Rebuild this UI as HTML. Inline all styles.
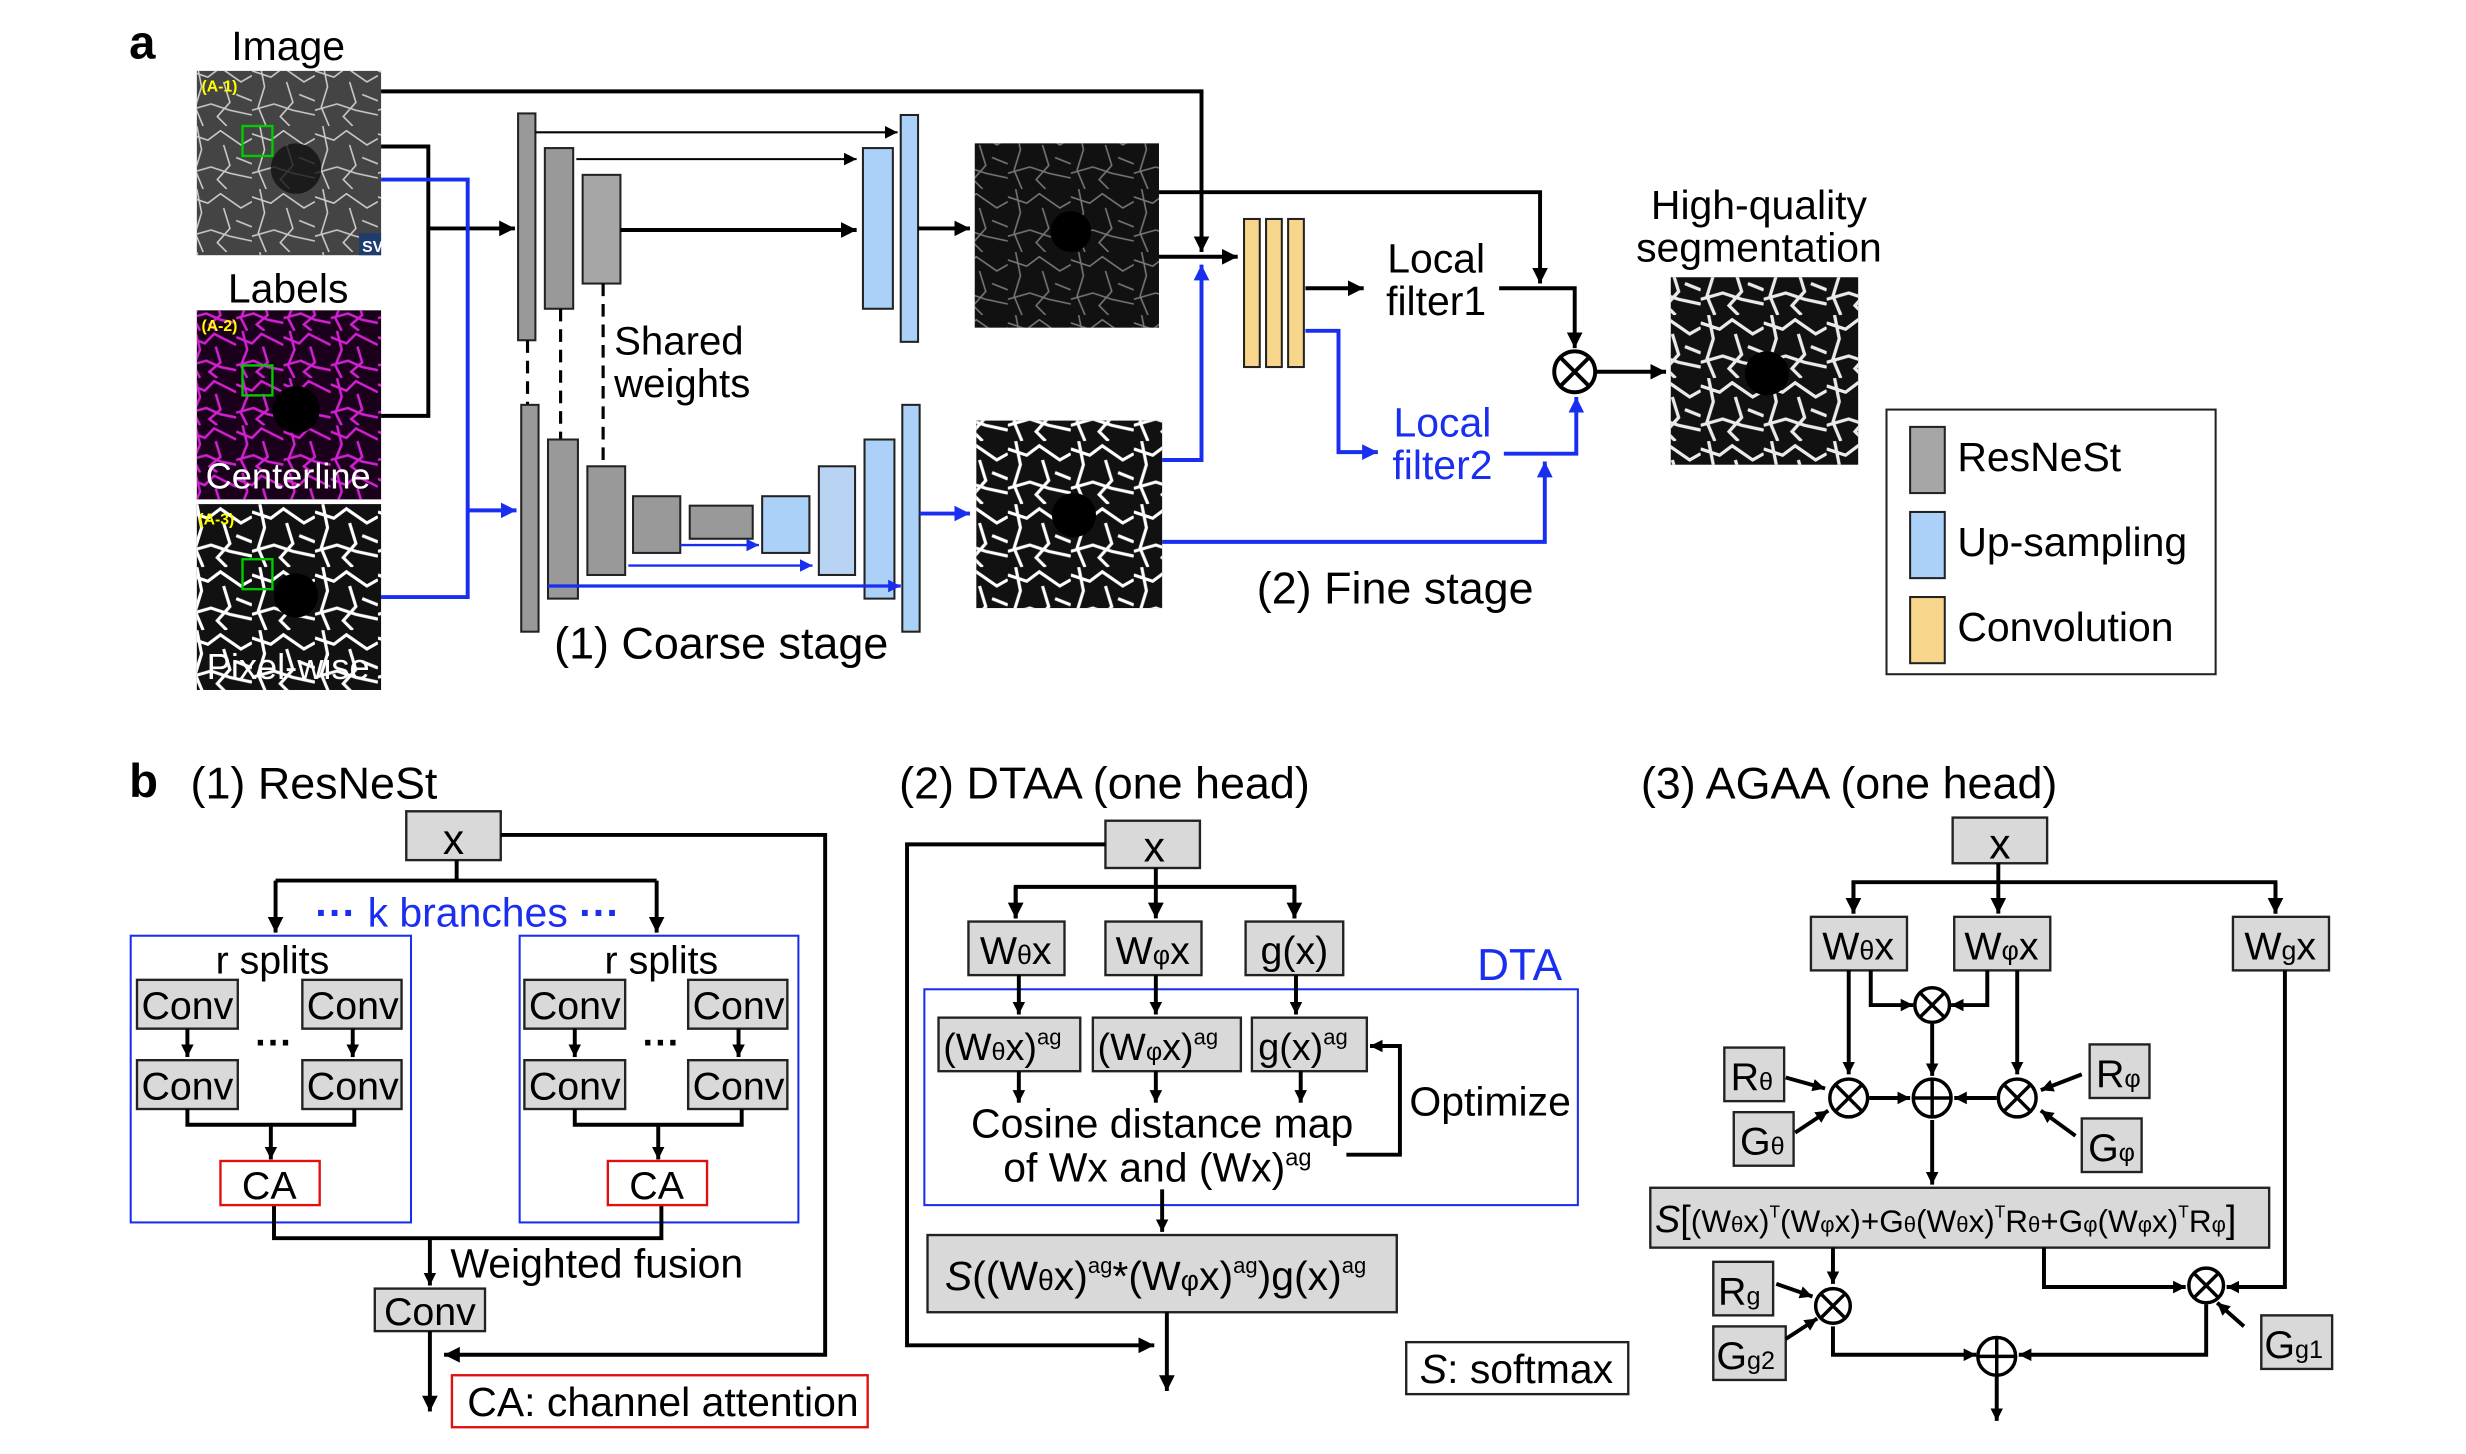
<!DOCTYPE html>
<html><head><meta charset="utf-8"><style>
html,body{margin:0;padding:0;background:#fff;}
svg{display:block;}
text{font-family:"Liberation Sans",Arial,sans-serif;}
</style></head><body>
<svg width="2466" height="1454" viewBox="0 0 1566 923" preserveAspectRatio="none" xmlns="http://www.w3.org/2000/svg">
<defs>
<marker id="a" viewBox="0 0 10 10" refX="10" refY="5" markerWidth="10" markerHeight="10" markerUnits="userSpaceOnUse" orient="auto"><path d="M0,0L10,5L0,10z" fill="#000"/></marker>
<marker id="as" viewBox="0 0 10 10" refX="10" refY="5" markerWidth="8" markerHeight="8" markerUnits="userSpaceOnUse" orient="auto"><path d="M0,0L10,5L0,10z" fill="#000"/></marker>
<marker id="b" viewBox="0 0 10 10" refX="10" refY="5" markerWidth="10" markerHeight="10" markerUnits="userSpaceOnUse" orient="auto"><path d="M0,0L10,5L0,10z" fill="#1a2ef0"/></marker>
<marker id="bs" viewBox="0 0 10 10" refX="10" refY="5" markerWidth="8" markerHeight="8" markerUnits="userSpaceOnUse" orient="auto"><path d="M0,0L10,5L0,10z" fill="#1a2ef0"/></marker>
<pattern id="v1" width="40" height="40" patternUnits="userSpaceOnUse">
<path d="M0,5 L12,9 L20,3 L33,12 L40,8 M5,0 L8,15 L4,28 L9,40 M22,12 L26,25 L18,34 L24,40 M30,20 L40,24 M0,30 L14,26 L26,30 L40,33" stroke="#ccc" stroke-width="1" fill="none"/></pattern>
<pattern id="v2" width="40" height="40" patternUnits="userSpaceOnUse">
<path d="M0,5 L12,9 L20,3 L33,12 L40,8 M5,0 L8,15 L4,28 L9,40 M22,12 L26,25 L18,34 L24,40 M30,20 L40,24 M0,30 L14,26 L26,30 L40,33" stroke="#fff" stroke-width="2" fill="none"/></pattern>
<pattern id="v3" width="30" height="30" patternUnits="userSpaceOnUse">
<path d="M0,4 L10,8 L16,2 L30,9 M4,0 L7,12 L3,22 L7,30 M17,10 L20,20 L13,26 L18,30 M0,22 L11,19 L20,23 L30,25" stroke="#d020d0" stroke-width="1.6" fill="none"/></pattern>
</defs>

<text x="82" y="37" font-size="30" font-weight="bold">a</text>
<text x="183" y="38" font-size="26" text-anchor="middle">Image</text>
<rect x="125" y="45" width="117" height="117" fill="#444"/>
<rect x="125" y="45" width="117" height="117" fill="url(#v1)"/>
<circle cx="188" cy="107" r="16" fill="#111" opacity="0.8"/>
<rect x="228" y="148" width="14" height="14" fill="#1f3c6e"/>
<text x="230" y="160" font-size="10" fill="#fff" font-weight="bold">SV</text>
<text x="128" y="58" font-size="10" fill="#ff0" font-weight="bold">(A-1)</text>
<rect x="154" y="80" width="19" height="19" fill="none" stroke="#0c0" stroke-width="1.5"/>

<text x="183" y="192" font-size="26" text-anchor="middle">Labels</text>
<rect x="125" y="197" width="117" height="120" fill="#1a001a"/>
<rect x="125" y="197" width="117" height="120" fill="url(#v3)"/>
<circle cx="188" cy="260" r="15" fill="#000"/>
<text x="128" y="210" font-size="10" fill="#ff0" font-weight="bold">(A-2)</text>
<rect x="154" y="232" width="19" height="19" fill="none" stroke="#0c0" stroke-width="1.5"/>
<text x="183" y="310" font-size="23" fill="#fff" text-anchor="middle">Centerline</text>

<rect x="125" y="320" width="117" height="118" fill="#111"/>
<rect x="125" y="320" width="117" height="118" fill="url(#v2)"/>
<circle cx="188" cy="378" r="14" fill="#000"/>
<text x="126" y="333" font-size="10" fill="#ff0" font-weight="bold">(A-3)</text>
<rect x="154" y="355" width="19" height="19" fill="none" stroke="#0c0" stroke-width="1.5"/>
<text x="183" y="431" font-size="23" fill="#fff" text-anchor="middle">Pixel-wise</text>

<polyline points="242,58 763,58 763,160" fill="none" stroke="#000" stroke-width="2.5" marker-end="url(#a)"/>
<polyline points="242,93 272,93 272,264 242,264" fill="none" stroke="#000" stroke-width="2.5"/>
<line x1="272" y1="145" x2="327" y2="145" stroke="#000" stroke-width="2.5" marker-end="url(#a)"/>
<polyline points="242,114 297,114 297,379 242,379" fill="none" stroke="#1a2ef0" stroke-width="2.5"/>
<line x1="297" y1="324" x2="328" y2="324" stroke="#1a2ef0" stroke-width="2.5" marker-end="url(#b)"/>

<g stroke="#222" stroke-width="1.3">
<rect x="329" y="72" width="11" height="144" fill="#999"/>
<rect x="346" y="94" width="18" height="102" fill="#999"/>
<rect x="370" y="111" width="24" height="69" fill="#a6a6a6"/>
<rect x="548" y="94" width="19" height="102" fill="#acd1f8"/>
<rect x="572" y="73" width="11" height="144" fill="#acd1f8"/>
</g>
<line x1="340" y1="84" x2="570" y2="84" stroke="#000" stroke-width="1.3" marker-end="url(#as)"/>
<line x1="366" y1="101" x2="544" y2="101" stroke="#000" stroke-width="1.3" marker-end="url(#as)"/>
<line x1="394" y1="146" x2="544" y2="146" stroke="#000" stroke-width="2.5" marker-end="url(#a)"/>
<line x1="583" y1="145" x2="616" y2="145" stroke="#000" stroke-width="2.5" marker-end="url(#a)"/>
<rect x="619" y="91" width="117" height="117" fill="#111"/>
<rect x="619" y="91" width="117" height="117" fill="url(#v1)" opacity="0.55"/>
<circle cx="680" cy="147" r="13" fill="#000"/>

<g stroke="#000" stroke-width="2" stroke-dasharray="8,5">
<line x1="335" y1="216" x2="335" y2="257"/>
<line x1="356" y1="196" x2="356" y2="279"/>
<line x1="383" y1="180" x2="383" y2="296"/>
</g>
<text x="390" y="225" font-size="25.5">Shared</text>
<text x="390" y="252" font-size="25.5">weights</text>

<g stroke="#222" stroke-width="1.3">
<rect x="331" y="257" width="11" height="144" fill="#999"/>
<rect x="348" y="279" width="19" height="101" fill="#999"/>
<rect x="373" y="296" width="24" height="69" fill="#999"/>
<rect x="402" y="315" width="30" height="36" fill="#999"/>
<rect x="438" y="321" width="40" height="21" fill="#999"/>
<rect x="484" y="315" width="30" height="36" fill="#acd1f8"/>
<rect x="520" y="296" width="23" height="69" fill="#b8d4f2"/>
<rect x="549" y="279" width="19" height="101" fill="#acd1f8"/>
<rect x="573" y="257" width="11" height="144" fill="#acd1f8"/>
</g>
<line x1="432" y1="346" x2="482" y2="346" stroke="#1a2ef0" stroke-width="1.5" marker-end="url(#bs)"/>
<line x1="399" y1="359" x2="516" y2="359" stroke="#1a2ef0" stroke-width="1.5" marker-end="url(#bs)"/>
<line x1="348" y1="372" x2="572" y2="372" stroke="#1a2ef0" stroke-width="2" marker-end="url(#bs)"/>
<line x1="584" y1="326" x2="616" y2="326" stroke="#1a2ef0" stroke-width="2.5" marker-end="url(#b)"/>
<rect x="620" y="267" width="118" height="119" fill="#111"/>
<rect x="620" y="267" width="118" height="119" fill="url(#v2)"/>
<circle cx="682" cy="327" r="14" fill="#000"/>
<text x="458" y="418" font-size="28.5" text-anchor="middle">(1) Coarse stage</text>

<line x1="736" y1="163" x2="786" y2="163" stroke="#000" stroke-width="2.5" marker-end="url(#a)"/>
<polyline points="738,292 763,292 763,168" fill="none" stroke="#1a2ef0" stroke-width="2.5" marker-end="url(#b)"/>
<g stroke="#222" stroke-width="1.3" fill="#f7d68c">
<rect x="790" y="139" width="10" height="94"/>
<rect x="804" y="139" width="10" height="94"/>
<rect x="818" y="139" width="10" height="94"/>
</g>
<line x1="829" y1="183" x2="866" y2="183" stroke="#000" stroke-width="2.5" marker-end="url(#a)"/>
<text x="912" y="173" font-size="26" text-anchor="middle">Local</text>
<text x="912" y="200" font-size="26" text-anchor="middle">filter1</text>
<polyline points="829,210 850,210 850,287 875,287" fill="none" stroke="#1a2ef0" stroke-width="2.5" marker-end="url(#b)"/>
<text x="916" y="277" font-size="26" text-anchor="middle" fill="#1a2ef0">Local</text>
<text x="916" y="304" font-size="26" text-anchor="middle" fill="#1a2ef0">filter2</text>
<polyline points="736,122 978,122 978,180" fill="none" stroke="#000" stroke-width="2.5" marker-end="url(#a)"/>
<polyline points="952,183 1000,183 1000,221" fill="none" stroke="#000" stroke-width="2.5" marker-end="url(#a)"/>
<polyline points="955,288 1001,288 1001,252" fill="none" stroke="#1a2ef0" stroke-width="2.5" marker-end="url(#b)"/>
<polyline points="738,344 981,344 981,293" fill="none" stroke="#1a2ef0" stroke-width="2.5" marker-end="url(#b)"/>
<g stroke="#000" stroke-width="2.5" fill="none">
<circle cx="1000" cy="236" r="13"/>
<line x1="991" y1="227" x2="1009" y2="245"/><line x1="1009" y1="227" x2="991" y2="245"/>
</g>
<line x1="1014" y1="236" x2="1058" y2="236" stroke="#000" stroke-width="2.5" marker-end="url(#a)"/>
<text x="1117" y="139" font-size="26" text-anchor="middle">High-quality</text>
<text x="1117" y="166" font-size="26" text-anchor="middle">segmentation</text>
<rect x="1061" y="176" width="119" height="119" fill="#111"/>
<rect x="1061" y="176" width="119" height="119" fill="url(#v2)"/>
<rect x="1061" y="176" width="119" height="119" fill="url(#v1)" opacity="0.5"/>
<circle cx="1122" cy="237" r="14" fill="#000"/>
<text x="886" y="383" font-size="28.5" text-anchor="middle">(2) Fine stage</text>

<rect x="1198" y="260" width="209" height="168" fill="#fff" stroke="#222" stroke-width="1.3"/>
<rect x="1213" y="271" width="22" height="42" fill="#a6a6a6" stroke="#222" stroke-width="1.3"/>
<rect x="1213" y="325" width="22" height="42" fill="#acd1f8" stroke="#222" stroke-width="1.3"/>
<rect x="1213" y="379" width="22" height="42" fill="#f7d68c" stroke="#222" stroke-width="1.3"/>
<text x="1243" y="299" font-size="26">ResNeSt</text>
<text x="1243" y="353" font-size="26">Up-sampling</text>
<text x="1243" y="407" font-size="26">Convolution</text>

<text x="82" y="506" font-size="30" font-weight="bold">b</text>
<text x="121" y="507" font-size="28.5">(1) ResNeSt</text>
<g fill="#d9d9d9" stroke="#222" stroke-width="1.5">
<rect x="258" y="515" width="60" height="31"/>
<rect x="87" y="622" width="64" height="31"/>
<rect x="192" y="622" width="63" height="31"/>
<rect x="87" y="673" width="64" height="31"/>
<rect x="192" y="673" width="63" height="31"/>
<rect x="333" y="622" width="64" height="31"/>
<rect x="437" y="622" width="63" height="31"/>
<rect x="333" y="673" width="64" height="31"/>
<rect x="437" y="673" width="63" height="31"/>
<rect x="238" y="818" width="70" height="27"/>
</g>
<text x="288" y="542" font-size="27" text-anchor="middle">x</text>
<g font-size="25" text-anchor="middle">
<text x="119" y="647">Conv</text><text x="224" y="647">Conv</text>
<text x="119" y="698">Conv</text><text x="224" y="698">Conv</text>
<text x="365" y="647">Conv</text><text x="469" y="647">Conv</text>
<text x="365" y="698">Conv</text><text x="469" y="698">Conv</text>
<text x="273" y="841">Conv</text>
</g>
<rect x="83" y="594" width="178" height="182" fill="none" stroke="#1a2ef0" stroke-width="1.3"/>
<rect x="330" y="594" width="177" height="182" fill="none" stroke="#1a2ef0" stroke-width="1.3"/>
<text x="173" y="618" font-size="25" text-anchor="middle">r splits</text>
<text x="420" y="618" font-size="25" text-anchor="middle">r splits</text>
<text x="174" y="670" font-size="24" font-weight="bold" text-anchor="middle">···</text>
<text x="420" y="670" font-size="24" font-weight="bold" text-anchor="middle">···</text>
<text x="297" y="588" font-size="26" text-anchor="middle" fill="#1a2ef0"><tspan font-weight="bold">···</tspan> k branches <tspan font-weight="bold">···</tspan></text>
<g stroke="#000" stroke-width="2.5" fill="none">
<polyline points="318,530 524,530 524,860 282,860" marker-end="url(#a)"/>
<polyline points="290,546 290,559"/>
<polyline points="175,559 417,559"/>
<line x1="175" y1="559" x2="175" y2="592" marker-end="url(#a)"/>
<line x1="417" y1="559" x2="417" y2="592" marker-end="url(#a)"/>
<line x1="119" y1="653" x2="119" y2="671" marker-end="url(#as)"/>
<line x1="224" y1="653" x2="224" y2="671" marker-end="url(#as)"/>
<line x1="365" y1="653" x2="365" y2="671" marker-end="url(#as)"/>
<line x1="469" y1="653" x2="469" y2="671" marker-end="url(#as)"/>
<polyline points="119,704 119,714 225,714 225,704"/>
<line x1="172" y1="714" x2="172" y2="736" marker-end="url(#as)"/>
<polyline points="365,704 365,714 471,714 471,704"/>
<line x1="418" y1="714" x2="418" y2="736" marker-end="url(#as)"/>
<polyline points="174,765 174,786 420,786 420,765"/>
<line x1="273" y1="786" x2="273" y2="816" marker-end="url(#as)"/>
<line x1="273" y1="845" x2="273" y2="896" marker-end="url(#a)"/>
</g>
<rect x="140" y="737" width="63" height="28" fill="#fff" stroke="#e01010" stroke-width="1.5"/>
<rect x="386" y="737" width="63" height="28" fill="#fff" stroke="#e01010" stroke-width="1.5"/>
<text x="171" y="761" font-size="25" text-anchor="middle">CA</text>
<text x="417" y="761" font-size="25" text-anchor="middle">CA</text>
<text x="286" y="811" font-size="26">Weighted fusion</text>
<rect x="287" y="873" width="264" height="33" fill="#fff" stroke="#e01010" stroke-width="1.5"/>
<text x="421" y="899" font-size="26" text-anchor="middle">CA: channel attention</text>

<text x="571" y="507" font-size="28.5">(2) DTAA (one head)</text>
<g fill="#d9d9d9" stroke="#222" stroke-width="1.5">
<rect x="702" y="521" width="60" height="30"/>
<rect x="615" y="585" width="61" height="34"/>
<rect x="702" y="585" width="61" height="34"/>
<rect x="791" y="585" width="62" height="34"/>
<rect x="596" y="646" width="90" height="34"/>
<rect x="694" y="646" width="94" height="34"/>
<rect x="795" y="646" width="73" height="34"/>
<rect x="589" y="784" width="298" height="49"/>
</g>
<text x="733" y="547" font-size="27" text-anchor="middle">x</text>
<text x="645" y="612" font-size="25" text-anchor="middle">W<tspan font-size="17">θ</tspan>x</text>
<text x="732" y="612" font-size="25" text-anchor="middle">W<tspan font-size="17">φ</tspan>x</text>
<text x="822" y="612" font-size="25" text-anchor="middle">g(x)</text>
<text x="599" y="673" font-size="24">(W<tspan font-size="16">θ</tspan>x)<tspan font-size="14" dy="-10">ag</tspan></text>
<text x="697" y="673" font-size="24">(W<tspan font-size="16">φ</tspan>x)<tspan font-size="14" dy="-10">ag</tspan></text>
<text x="799" y="673" font-size="24">g(x)<tspan font-size="14" dy="-10">ag</tspan></text>
<rect x="587" y="628" width="415" height="137" fill="none" stroke="#1a2ef0" stroke-width="1.3"/>
<text x="938" y="622" font-size="28" fill="#1a2ef0">DTA</text>
<text x="738" y="722" font-size="26" text-anchor="middle">Cosine distance map</text>
<text x="735" y="750" font-size="26" text-anchor="middle">of Wx and (Wx)<tspan font-size="15" dy="-10">ag</tspan></text>
<text x="895" y="708" font-size="26">Optimize</text>
<text x="600" y="819" font-size="26"><tspan font-style="italic">S</tspan>((W<tspan font-size="18">θ</tspan>x)<tspan font-size="14" dy="-11">ag</tspan><tspan dy="11">*(W</tspan><tspan font-size="18">φ</tspan>x)<tspan font-size="14" dy="-11">ag</tspan><tspan dy="11">)g(x)</tspan><tspan font-size="14" dy="-11">ag</tspan></text>
<g stroke="#000" stroke-width="2.5" fill="none">
<polyline points="702,536 576,536 576,854 733,854" marker-end="url(#a)"/>
<line x1="734" y1="551" x2="734" y2="583" marker-end="url(#a)"/>
<polyline points="645,583 645,563 822,563 822,583"/>
<line x1="645" y1="563" x2="645" y2="583" marker-end="url(#a)"/>
<line x1="822" y1="563" x2="822" y2="583" marker-end="url(#a)"/>
<line x1="647" y1="619" x2="647" y2="644" marker-end="url(#as)"/>
<line x1="734" y1="619" x2="734" y2="644" marker-end="url(#as)"/>
<line x1="823" y1="619" x2="823" y2="644" marker-end="url(#as)"/>
<line x1="647" y1="680" x2="647" y2="700" marker-end="url(#as)"/>
<line x1="734" y1="680" x2="734" y2="700" marker-end="url(#as)"/>
<line x1="826" y1="680" x2="826" y2="700" marker-end="url(#as)"/>
<polyline points="855,733 889,733 889,664 870,664" marker-end="url(#as)"/>
<line x1="738" y1="755" x2="738" y2="782" marker-end="url(#as)"/>
<line x1="741" y1="833" x2="741" y2="883" marker-end="url(#a)"/>
</g>
<rect x="893" y="852" width="141" height="33" fill="#fff" stroke="#222" stroke-width="1.5"/>
<text x="963" y="878" font-size="26" text-anchor="middle"><tspan font-style="italic">S</tspan>: softmax</text>

<text x="1042" y="507" font-size="28.5">(3) AGAA (one head)</text>
<g fill="#d9d9d9" stroke="#222" stroke-width="1.5">
<rect x="1240" y="519" width="60" height="29"/>
<rect x="1150" y="582" width="61" height="34"/>
<rect x="1241" y="582" width="61" height="34"/>
<rect x="1418" y="582" width="61" height="34"/>
<rect x="1095" y="665" width="38" height="34"/>
<rect x="1101" y="706" width="38" height="34"/>
<rect x="1327" y="663" width="38" height="34"/>
<rect x="1322" y="710" width="38" height="34"/>
<rect x="1048" y="754" width="393" height="38"/>
<rect x="1088" y="801" width="38" height="34"/>
<rect x="1088" y="842" width="46" height="34"/>
<rect x="1436" y="835" width="45" height="34"/>
</g>
<text x="1270" y="545" font-size="27" text-anchor="middle">x</text>
<text x="1180" y="609" font-size="25" text-anchor="middle">W<tspan font-size="17">θ</tspan>x</text>
<text x="1271" y="609" font-size="25" text-anchor="middle">W<tspan font-size="17">φ</tspan>x</text>
<text x="1448" y="609" font-size="25" text-anchor="middle">W<tspan font-size="17">g</tspan>x</text>
<text x="1099" y="692" font-size="25">R<tspan font-size="16">θ</tspan></text>
<text x="1105" y="733" font-size="25">G<tspan font-size="16">θ</tspan></text>
<text x="1331" y="690" font-size="25">R<tspan font-size="16">φ</tspan></text>
<text x="1326" y="737" font-size="25">G<tspan font-size="16">φ</tspan></text>
<text x="1091" y="828" font-size="25">R<tspan font-size="16">g</tspan></text>
<text x="1090" y="869" font-size="25">G<tspan font-size="16">g2</tspan></text>
<text x="1438" y="862" font-size="25">G<tspan font-size="16">g1</tspan></text>
<text x="1051" y="782" font-size="24"><tspan font-style="italic">S</tspan>[<tspan font-size="20">(W<tspan font-size="14">θ</tspan>x)<tspan font-size="11" dy="-9">T</tspan><tspan dy="9">(W</tspan><tspan font-size="14">φ</tspan>x)+G<tspan font-size="14">θ</tspan>(W<tspan font-size="14">θ</tspan>x)<tspan font-size="11" dy="-9">T</tspan><tspan dy="9">R</tspan><tspan font-size="14">θ</tspan>+G<tspan font-size="14">φ</tspan>(W<tspan font-size="14">φ</tspan>x)<tspan font-size="11" dy="-9">T</tspan><tspan dy="9">R</tspan><tspan font-size="14">φ</tspan></tspan>]</text>
<g stroke="#000" stroke-width="2.5" fill="none">
<line x1="1269" y1="548" x2="1269" y2="580" marker-end="url(#a)"/>
<polyline points="1177,580 1177,560 1445,560 1445,580"/>
<line x1="1177" y1="560" x2="1177" y2="580" marker-end="url(#a)"/>
<line x1="1445" y1="560" x2="1445" y2="580" marker-end="url(#a)"/>
<polyline points="1188,616 1188,638 1215,638" marker-end="url(#as)"/>
<polyline points="1262,616 1262,638 1239,638" marker-end="url(#as)"/>
<line x1="1174" y1="616" x2="1174" y2="682" marker-end="url(#as)"/>
<line x1="1281" y1="616" x2="1281" y2="682" marker-end="url(#as)"/>
<line x1="1227" y1="650" x2="1227" y2="683" marker-end="url(#as)"/>
<line x1="1187" y1="697" x2="1213" y2="697" marker-end="url(#as)"/>
<line x1="1268" y1="697" x2="1241" y2="697" marker-end="url(#as)"/>
<line x1="1134" y1="684" x2="1159" y2="691" marker-end="url(#as)"/>
<line x1="1140" y1="719" x2="1161" y2="705" marker-end="url(#as)"/>
<line x1="1322" y1="682" x2="1296" y2="692" marker-end="url(#as)"/>
<line x1="1318" y1="721" x2="1296" y2="705" marker-end="url(#as)"/>
<line x1="1227" y1="711" x2="1227" y2="752" marker-end="url(#as)"/>
<line x1="1164" y1="792" x2="1164" y2="815" marker-end="url(#as)"/>
<polyline points="1298,792 1298,817 1388,817" marker-end="url(#as)"/>
<polyline points="1451,616 1451,817 1414,817" marker-end="url(#as)"/>
<line x1="1128" y1="815" x2="1151" y2="823" marker-end="url(#as)"/>
<line x1="1134" y1="850" x2="1154" y2="837" marker-end="url(#as)"/>
<line x1="1425" y1="842" x2="1408" y2="827" marker-end="url(#as)"/>
<polyline points="1164,842 1164,860 1255,860" marker-end="url(#as)"/>
<polyline points="1401,828 1401,860 1282,860" marker-end="url(#as)"/>
<line x1="1268" y1="873" x2="1268" y2="902" marker-end="url(#as)"/>
</g>
<g stroke="#000" stroke-width="2.2" fill="#fff">
<circle cx="1227" cy="638" r="11"/><circle cx="1174" cy="697" r="12"/><circle cx="1227" cy="697" r="12"/><circle cx="1281" cy="697" r="12"/>
<circle cx="1164" cy="829" r="11"/><circle cx="1401" cy="816" r="11"/><circle cx="1268" cy="861" r="12"/>
</g>
<g stroke="#000" stroke-width="2.2">
<line x1="1219" y1="630" x2="1235" y2="646"/><line x1="1235" y1="630" x2="1219" y2="646"/>
<line x1="1166" y1="689" x2="1182" y2="705"/><line x1="1182" y1="689" x2="1166" y2="705"/>
<line x1="1273" y1="689" x2="1289" y2="705"/><line x1="1289" y1="689" x2="1273" y2="705"/>
<line x1="1227" y1="685" x2="1227" y2="709"/><line x1="1215" y1="697" x2="1239" y2="697"/>
<line x1="1156" y1="821" x2="1172" y2="837"/><line x1="1172" y1="821" x2="1156" y2="837"/>
<line x1="1393" y1="808" x2="1409" y2="824"/><line x1="1409" y1="808" x2="1393" y2="824"/>
<line x1="1268" y1="849" x2="1268" y2="873"/><line x1="1256" y1="861" x2="1280" y2="861"/>
</g>
</svg>
</body></html>
